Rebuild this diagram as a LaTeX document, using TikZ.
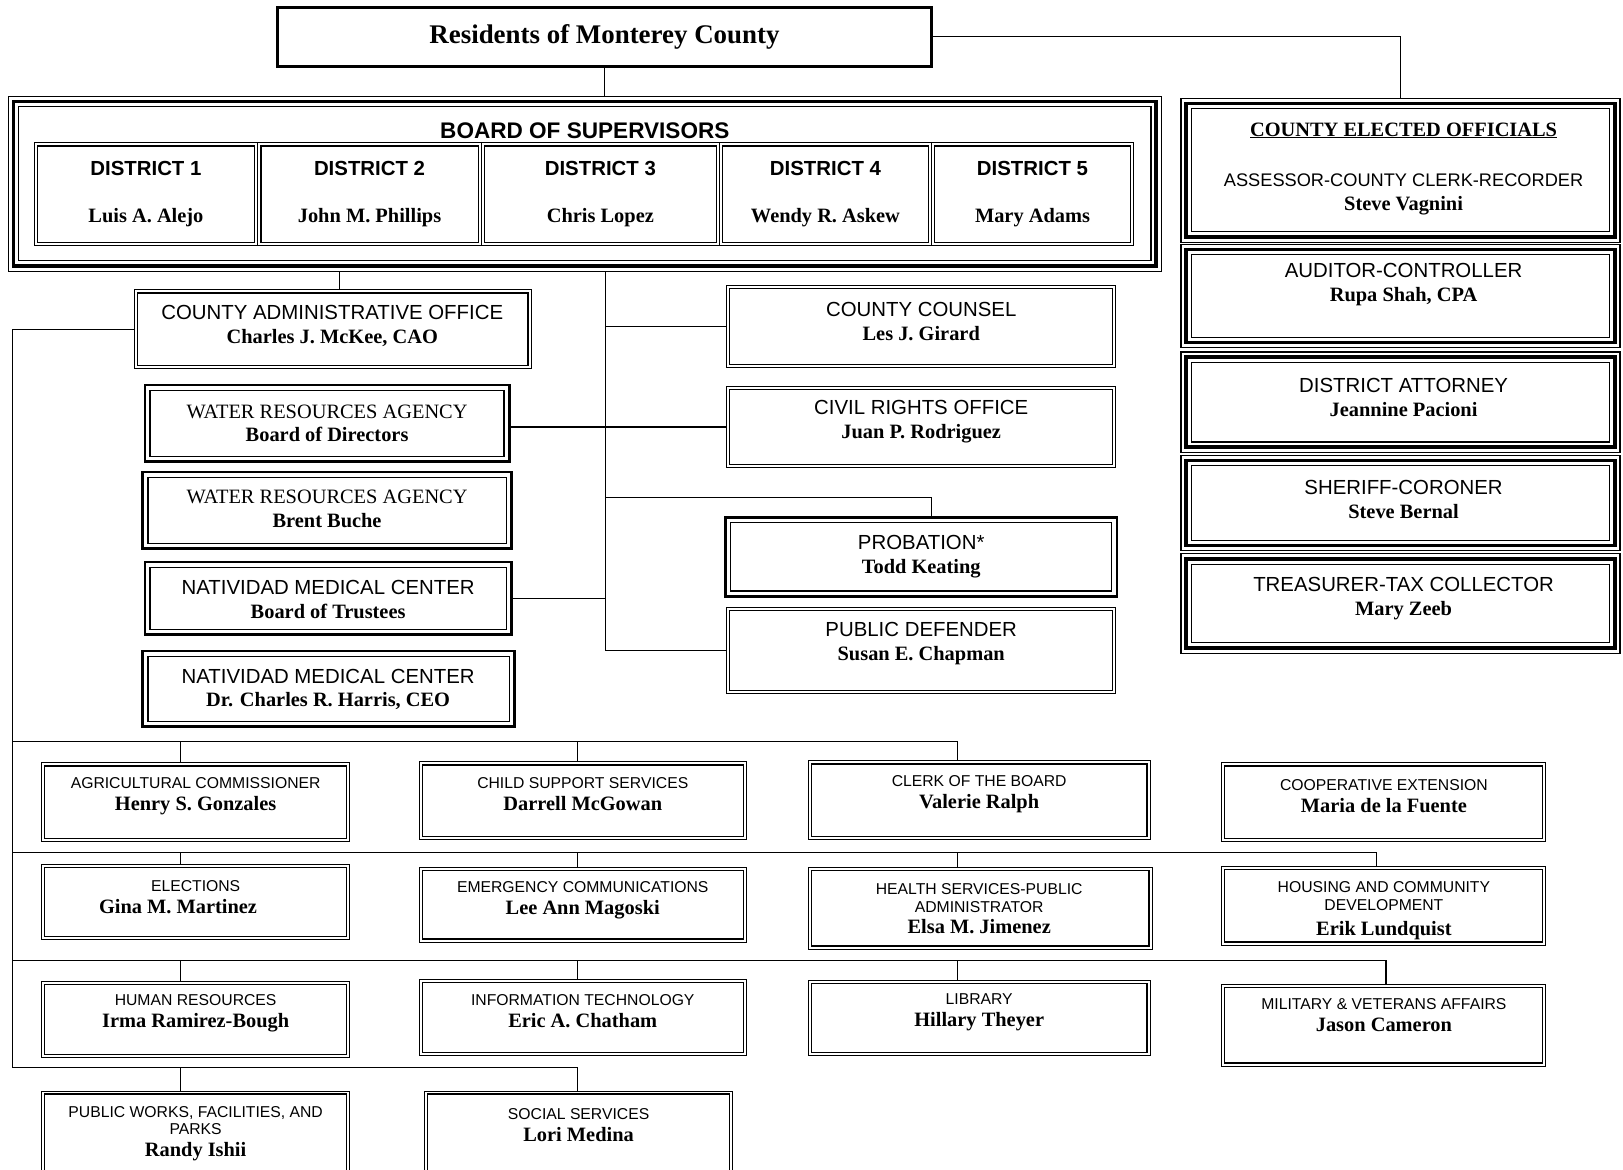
\documentclass[tikz,border=0pt]{standalone}
\usepackage{fontspec}
\setmainfont{Liberation Serif}
\setsansfont{Liberation Sans}
\usetikzlibrary{positioning}

% inner rule of a framed box, #1 = inset, #2 = width
\newcommand{\inframe}[2]{\draw[line width=#2]
  ([shift={(#1,-#1)}]path picture bounding box.north west) rectangle
  ([shift={(-#1,#1)}]path picture bounding box.south east);}
\newcommand{\chief}[1]{{\rmfamily\bfseries\fontsize{19.7}{23}\selectfont #1}}

\begin{document}
\begin{tikzpicture}[x=1pt, y=-1pt,
    every node/.style={inner sep=0pt, outer sep=0pt},
    plain/.style={draw, line width=0.8pt, path picture={\inframe{3pt}{1.3pt}}},
    heavy/.style={draw, line width=2.6pt, path picture={\inframe{5pt}{1.2pt}}},
    triple/.style={draw, line width=1.2pt, path picture={\inframe{5pt}{3.6pt}\inframe{10pt}{1.2pt}}},
    dist/.style={plain, minimum height=99pt, align=center, font=\bfseries\fontsize{19.7}{46}\selectfont},
    lbl/.style={align=center, font=\sffamily\fontsize{19.7}{23}\selectfont},
    lbls/.style={align=center, font=\sffamily\fontsize{15.2}{21}\selectfont},
    link/.style={draw, line width=1.1pt}
]
    \useasboundingbox (0,0) rectangle (1568,1130);
    \clip (0,0) rectangle (1568,1130);

    % residents and board
    \node[draw, line width=2.6pt, minimum width=632pt, minimum height=57pt,
          font=\bfseries\fontsize{26}{30}\selectfont] (res) at (584,35.5) {Residents of Monterey County};
    \node[triple, minimum width=1114pt, minimum height=169pt] (bos) at (565,177.5) {};
    \node[font=\sffamily\bfseries\fontsize{21.8}{24}\selectfont] (bost) at (565,126) {BOARD OF SUPERVISORS};
    \node[dist, minimum width=216pt] (d1) at (141,187.5) {\sffamily DISTRICT 1\\\rmfamily Luis A. Alejo};
    \node[dist, minimum width=216pt] (d2) at (357,187.5) {\sffamily DISTRICT 2\\\rmfamily John M. Phillips};
    \node[dist, minimum width=230pt] (d3) at (580,187.5) {\sffamily DISTRICT 3\\\rmfamily Chris Lopez};
    \node[dist, minimum width=205pt] (d4) at (797.5,187.5) {\sffamily DISTRICT 4\\\rmfamily Wendy R. Askew};
    \node[dist, minimum width=195pt] (d5) at (997.5,187.5) {\sffamily DISTRICT 5\\\rmfamily Mary Adams};

    % elected officials
    \node[triple, minimum width=424pt, minimum height=139pt] (eo1) at (1353,164.5) {};
    \node[font=\bfseries\fontsize{19.7}{23}\selectfont] (eoh) at (1356,126) {\underline{COUNTY ELECTED OFFICIALS}};
    \node[lbl] (eo1t) at (1356,188) {\fontsize{17.6}{23}\selectfont ASSESSOR-COUNTY CLERK-RECORDER\\\chief{Steve Vagnini}};
    \node[triple, minimum width=424pt, minimum height=100pt] (eo2) at (1353,286) {};
    \node[lbl] (eo2t) at (1356,275) {AUDITOR-CONTROLLER\\\chief{Rupa Shah, CPA}};
    \node[triple, minimum width=424pt, minimum height=97pt] (eo3) at (1353,388.5) {};
    \node[lbl] (eo3t) at (1356,384) {DISTRICT ATTORNEY\\\chief{Jeannine Pacioni}};
    \node[triple, minimum width=424pt, minimum height=92pt] (eo4) at (1353,486) {};
    \node[lbl] (eo4t) at (1356,482.5) {SHERIFF-CORONER\\\chief{Steve Bernal}};
    \node[triple, minimum width=424pt, minimum height=96pt] (eo5) at (1353,583) {};
    \node[lbl] (eo5t) at (1356,578.5) {TREASURER-TAX COLLECTOR\\\chief{Mary Zeeb}};

    % administration and agencies
    \node[plain, minimum width=383pt, minimum height=76pt] (cao) at (321.5,318) {};
    \node[lbl] (caot) at (321,315) {COUNTY ADMINISTRATIVE OFFICE\\\chief{Charles J. McKee, CAO}};
    \node[heavy, minimum width=352pt, minimum height=74pt] (wra) at (316,409) {};
    \node[lbl] (wrat) at (316,409) {\rmfamily WATER RESOURCES AGENCY\\\chief{Board of Directors}};
    \node[heavy, minimum width=356pt, minimum height=74pt] (wrb) at (316,493) {};
    \node[lbl] (wrbt) at (316,492) {\rmfamily WATER RESOURCES AGENCY\\\chief{Brent Buche}};
    \node[heavy, minimum width=354pt, minimum height=70pt] (nmc) at (317,578) {};
    \node[lbl] (nmct) at (317,579.5) {NATIVIDAD MEDICAL CENTER\\\chief{Board of Trustees}};
    \node[heavy, minimum width=359pt, minimum height=73pt] (nmd) at (317.5,665.5) {};
    \node[lbl] (nmdt) at (317,666) {NATIVIDAD MEDICAL CENTER\\\chief{Dr. Charles R. Harris, CEO}};

    \node[plain, minimum width=376pt, minimum height=79pt] (cc) at (890,315.5) {};
    \node[lbl] (cct) at (890,310.5) {COUNTY COUNSEL\\\chief{Les J. Girard}};
    \node[plain, minimum width=376pt, minimum height=79pt] (cro) at (890,412.5) {};
    \node[lbl] (crot) at (890,407.5) {CIVIL RIGHTS OFFICE\\\chief{Juan P. Rodriguez}};
    \node[heavy, minimum width=378pt, minimum height=76pt] (prob) at (890,538) {};
    \node[lbl] (probt) at (890,537.5) {PROBATION*\\\chief{Todd Keating}};
    \node[plain, minimum width=376pt, minimum height=83pt] (pd) at (890,628.5) {};
    \node[lbl] (pdt) at (890,621.5) {PUBLIC DEFENDER\\\chief{Susan E. Chapman}};

    % departments
    \node[plain, minimum width=298pt, minimum height=76pt] (ag) at (189,775) {};
    \node[lbls] (agt) at (189,769) {AGRICULTURAL COMMISSIONER\\\chief{Henry S. Gonzales}};
    \node[plain, minimum width=316pt, minimum height=75pt] (cs) at (563,773.5) {};
    \node[lbls] (cst) at (563,767) {CHILD SUPPORT SERVICES\\\chief{Darrell McGowan}};
    \node[plain, minimum width=330pt, minimum height=76pt] (clerk) at (946,773) {};
    \node[lbls] (clerkt) at (946,767) {CLERK OF THE BOARD\\\chief{Valerie Ralph}};
    \node[plain, minimum width=313pt, minimum height=76pt] (coop) at (1336.5,775) {};
    \node[lbls] (coopt) at (1337,769) {COOPERATIVE EXTENSION\\\chief{Maria de la Fuente}};

    \node[plain, minimum width=298pt, minimum height=73pt] (el) at (189,871.5) {};
    \node[lbls] (elt) at (189,867) {ELECTIONS\\\chief{Gina M. Martinez}\hspace*{34pt}};
    \node[plain, minimum width=316pt, minimum height=72pt] (em) at (563,874) {};
    \node[lbls] (emt) at (563,870) {EMERGENCY COMMUNICATIONS\\\chief{Lee Ann Magoski}};
    \node[plain, minimum width=332pt, minimum height=79pt] (hs) at (947,877.5) {};
    \node[lbls] (hst) at (946,878) {HEALTH SERVICES-PUBLIC\\[-4pt]ADMINISTRATOR\\\chief{Elsa M. Jimenez}};
    \node[plain, minimum width=313pt, minimum height=76pt] (ho) at (1336.5,875) {};
    \node[lbls] (hot) at (1337,880) {HOUSING AND COMMUNITY\\[-4pt]DEVELOPMENT\\[4pt]\chief{Erik Lundquist}};

    \node[plain, minimum width=298pt, minimum height=74pt] (hr) at (189,985) {};
    \node[lbls] (hrt) at (189,979) {HUMAN RESOURCES\\\chief{Irma Ramirez-Bough}};
    \node[plain, minimum width=316pt, minimum height=74pt] (it) at (563,983) {};
    \node[lbls] (itt) at (563,977) {INFORMATION TECHNOLOGY\\\chief{Eric A. Chatham}};
    \node[plain, minimum width=330pt, minimum height=73pt] (lib) at (946,983.5) {};
    \node[lbls] (libt) at (946,978) {LIBRARY\\\chief{Hillary Theyer}};
    \node[plain, minimum width=313pt, minimum height=79pt] (mil) at (1336.5,990.5) {};
    \node[lbls] (milt) at (1337,981) {MILITARY \& VETERANS AFFAIRS\\\chief{Jason Cameron}};

    \node[plain, minimum width=298pt, minimum height=90pt] (pw) at (189,1099) {};
    \node[lbls] (pwt) at (189,1095) {PUBLIC WORKS, FACILITIES, AND\\[-4pt]PARKS\\\chief{Randy Ishii}};
    \node[plain, minimum width=298pt, minimum height=90pt] (ss) at (559,1099) {};
    \node[lbls] (sst) at (559,1087) {SOCIAL SERVICES\\\chief{Lori Medina}};

    % connectors
    \coordinate (mid) at (585,262);
    \draw[link] (res.south) -- (res.south |- bos.north);
    \draw[link] (res.east) -| (eo1.north);
    \draw[link] (bos.south -| 328,0) -- (cao.north -| 328,0);
    \draw[link] (mid) |- (pd.west);
    \draw[link] (cc.west) -- (cc.west -| mid);
    \draw[link] (wra.east |- cro.west) -- (cro.west);
    \draw[link] (nmc.east) -- (nmc.east -| mid);
    \draw[link] (mid |- 0,481) -| ([xshift=10pt]prob.north);
    \draw[link] (cao.west) -| (12,1031);

    \draw[link] (12,716) -| (clerk.north -| 925,0);
    \draw[link] (174,716) -- (ag.north -| 174,0);
    \draw[link] (558,716) -- (cs.north -| 558,0);

    \draw[link] (12,824) -| (ho.north -| 1330,0);
    \draw[link] (174,824) -- (el.north -| 174,0);
    \draw[link] (558,824) -- (em.north -| 558,0);
    \draw[link] (925,824) -- (hs.north -| 925,0);

    \draw[link] (12,928) -| (mil.north -| 1339,0);
    \draw[link] (174,928) -- (hr.north -| 174,0);
    \draw[link] (558,928) -- (it.north -| 558,0);
    \draw[link] (925,928) -- (lib.north -| 925,0);

    \draw[link] (12,1031) -| (ss.north -| 558,0);
    \draw[link] (174,1031) -- (pw.north -| 174,0);
\end{tikzpicture}
\end{document}
